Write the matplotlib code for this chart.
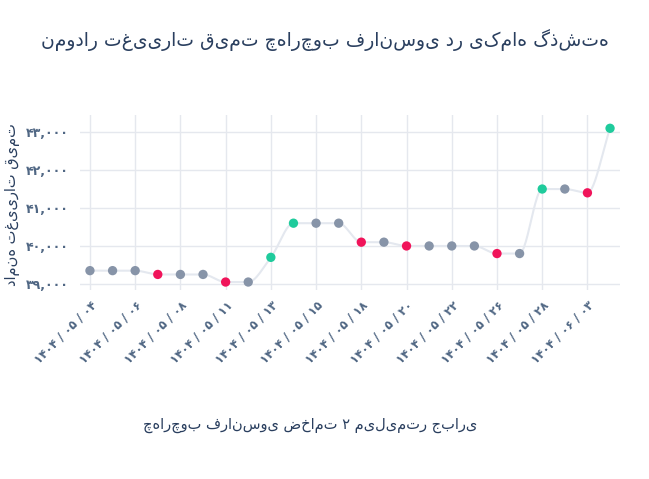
import matplotlib
matplotlib.use("Agg")
import matplotlib.pyplot as plt
import numpy as np

plt.rcParams['font.family'] = 'DejaVu Sans'

dates = ["۱۴۰۴ / ۰۵ / ۰۴","۱۴۰۴ / ۰۵ / ۰۵","۱۴۰۴ / ۰۵ / ۰۶","۱۴۰۴ / ۰۵ / ۰۷",
         "۱۴۰۴ / ۰۵ / ۰۸","۱۴۰۴ / ۰۵ / ۰۹","۱۴۰۴ / ۰۵ / ۱۱","۱۴۰۴ / ۰۵ / ۱۲",
         "۱۴۰۴ / ۰۵ / ۱۳","۱۴۰۴ / ۰۵ / ۱۴","۱۴۰۴ / ۰۵ / ۱۵","۱۴۰۴ / ۰۵ / ۱۶",
         "۱۴۰۴ / ۰۵ / ۱۸","۱۴۰۴ / ۰۵ / ۱۹","۱۴۰۴ / ۰۵ / ۲۰","۱۴۰۴ / ۰۵ / ۲۱",
         "۱۴۰۴ / ۰۵ / ۲۲","۱۴۰۴ / ۰۵ / ۲۵","۱۴۰۴ / ۰۵ / ۲۶","۱۴۰۴ / ۰۵ / ۲۷",
         "۱۴۰۴ / ۰۵ / ۲۸","۱۴۰۴ / ۰۵ / ۲۹","۱۴۰۴ / ۰۶ / ۰۳","۱۴۰۴ / ۰۶ / ۰۴"]
prices = [39350,39350,39350,39250,39250,39250,39050,39050,39700,40600,40600,40600,
          40100,40100,40000,40000,40000,40000,39800,39800,41500,41500,41400,43100]
yticks = [39000,40000,41000,42000,43000]
ytick_labels = ["۳۹,۰۰۰","۴۰,۰۰۰","۴۱,۰۰۰","۴۲,۰۰۰","۴۳,۰۰۰"]

title = "نمودار تغییرات قیمت چهارچوب فرانسوی در یکماه گذشته"
ylabel = "دامنه تغییرات قیمت"
xlabel = "چهارچوب فرانسوی ضخامت ۲ میلیمتر جباری"

GREEN, RED, GRAY = "#1fcb9c", "#f0145a", "#8794a8"
TXT = "#2a3f5f"

def pchip(x, y, xs):
    x = np.asarray(x, float); y = np.asarray(y, float)
    h = np.diff(x); d = np.diff(y) / h
    m = np.zeros_like(y)
    for k in range(1, len(y) - 1):
        if d[k-1] * d[k] > 0:
            m[k] = 2 / (1/d[k-1] + 1/d[k])
    m[0], m[-1] = d[0], d[-1]
    i = np.clip(np.searchsorted(x, xs) - 1, 0, len(h) - 1)
    t = (xs - x[i]) / h[i]
    h00 = 2*t**3 - 3*t**2 + 1; h10 = t**3 - 2*t**2 + t
    h01 = -2*t**3 + 3*t**2; h11 = t**3 - t**2
    return h00*y[i] + h10*h[i]*m[i] + h01*y[i+1] + h11*h[i]*m[i+1]

fig = plt.figure(figsize=(6.49, 4.79), dpi=100)
ax = fig.add_axes([80/649, 1-290/479, 540/649, 175/479])
x = np.arange(len(prices))
xs = np.linspace(0, len(prices)-1, 600)
ax.plot(xs, pchip(x, prices, xs), color="#e4e8ef", lw=1.5, zorder=1)

colors = []
for k, p in enumerate(prices):
    if k == 0 or p == prices[k-1]:
        colors.append(GRAY)
    elif p > prices[k-1]:
        colors.append(GREEN)
    else:
        colors.append(RED)
ax.scatter(x, prices, c=colors, s=45, zorder=3, edgecolors='none')

ax.set_xlim(-0.44, 23.44)
ax.set_ylim(38840, 43450)
ax.set_yticks(yticks)
ax.set_yticklabels(ytick_labels, fontsize=9, color="#506784", fontweight='bold')
tick_idx = list(range(0, 24, 2))
ax.set_xticks(tick_idx)
ax.set_xticklabels([dates[i] for i in tick_idx], rotation=45, ha='right',
                   rotation_mode='anchor', fontsize=8.5, color="#506784", fontweight='bold')
ax.grid(True, color="#e5e8ee", lw=1)
ax.set_axisbelow(True)
for s in ax.spines.values():
    s.set_visible(False)
ax.tick_params(axis='x', length=0, pad=6)
ax.tick_params(axis='y', length=0, pad=8)

fig.text(325/649, 1-40/479, title, ha='center', va='center', fontsize=13.5, color=TXT)
fig.text(13/649, 1-205/479, ylabel, rotation=90, ha='center', va='center', fontsize=10.5, color=TXT)
fig.text(310/649, 1-425/479, xlabel, ha='center', va='center', fontsize=10.5, color=TXT)

fig.savefig("out.png", dpi=100)
